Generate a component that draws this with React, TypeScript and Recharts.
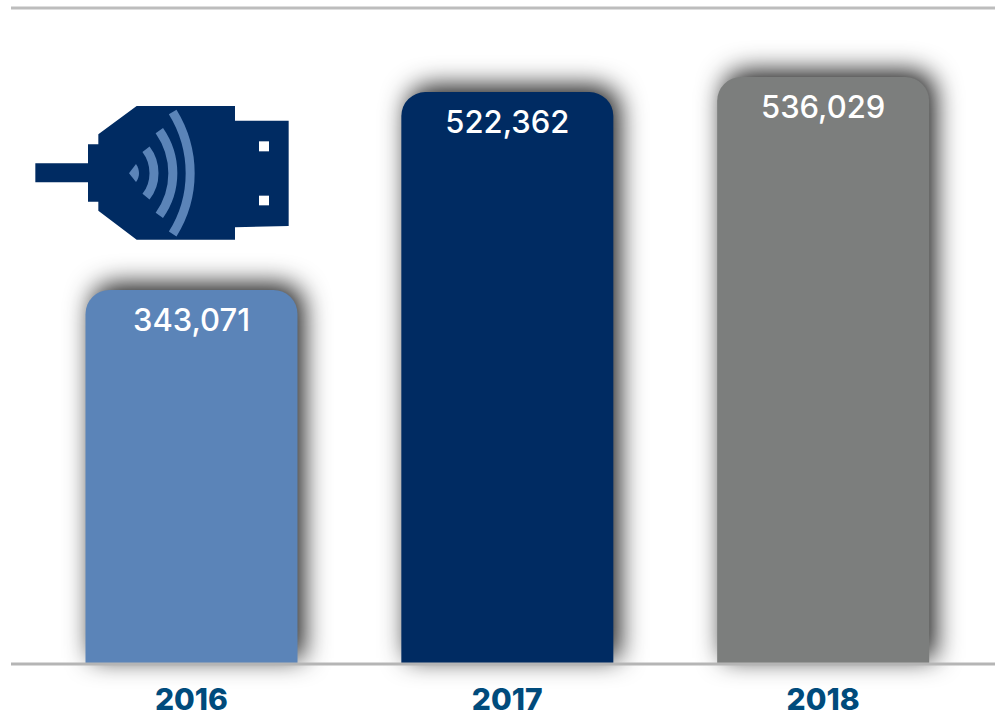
import { BarChart, Bar, Cell, XAxis, YAxis, LabelList, ReferenceLine } from "recharts";

const years = ["2016", "2017", "2018"];
const subscribers = [343071, 522362, 536029];
const barColors = ["#5b84b8", "#002b62", "#7c7e7d"];

const yMin = 4275;
const yMax = 598500;

const data = years.map((year, i) => ({ year, value: subscribers[i] }));

const UsbIcon = () => (
  <svg
    width={290}
    height={160}
    viewBox="0 0 870 480"
    style={{ position: "absolute", left: 20, top: 90 }}
  >
    <path
      fill="#002b62"
      d="M46 220H204V163H235V133L350 48H645V92H806V408L645 412V449H350L235 362V335H204V277H46Z"
    />
    <rect x={717} y={154} width={30} height={30} fill="#fff" />
    <rect x={717} y={317} width={30} height={29} fill="#fff" />
    <path fill="#5b84b8" d="M327 250L348 222C360 240 360 260 348 276Z" />
    <g fill="none" stroke="#5b84b8" strokeWidth={27}>
      <path d="M378 178C410 220 410 280 378 320" />
      <path d="M418 122C472 200 472 300 418 376" />
      <path d="M458 66C528 180 528 320 458 432" />
    </g>
  </svg>
);

export default function App() {
  return (
    <div style={{ position: "absolute", left: 0, top: 0, width: 995, height: 716, background: "#fff", overflow: "hidden" }}>
      <BarChart
        width={995}
        height={716}
        data={data}
        margin={{ top: 8, right: 0, bottom: 0, left: 11 }}
      >
        <XAxis
          dataKey="year"
          height={52}
          padding={{ left: 22.5, right: 14 }}
          axisLine={{ stroke: "#b5b5b5", strokeWidth: 3 }}
          tickLine={false}
          tickMargin={19}
          tick={{ fill: "#004b7c", fontSize: 30, fontWeight: 800, fontFamily: "Inter" }}
        />
        <YAxis hide domain={[yMin, yMax]} />
        <ReferenceLine y={yMax} stroke="#bdbdbd" strokeWidth={3} />
        <Bar
          dataKey="value"
          barSize={212}
          radius={[24, 24, 0, 0]}
          isAnimationActive={false}
          style={{ filter: "drop-shadow(6px -6px 13px rgba(0,0,0,0.9))" }}
        >
          {data.map((d, i) => (
            <Cell key={d.year} fill={barColors[i]} />
          ))}
          <LabelList
            dataKey="value"
            position="insideTop"
            offset={19}
            formatter={(v: number) => v.toLocaleString("en-US")}
            fill="#fff"
            fontSize={31}
            fontFamily="Inter"
            fontWeight={500}
          />
        </Bar>
      </BarChart>
      <UsbIcon />
    </div>
  );
}
